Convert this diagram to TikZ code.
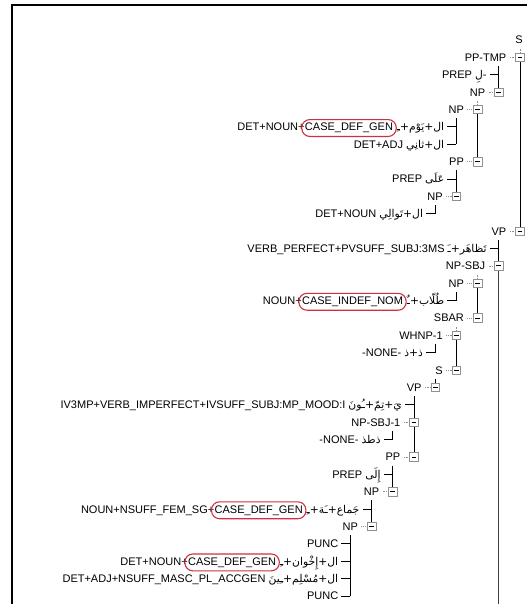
\documentclass[tikz,border=0pt]{standalone}
\usepackage{fontspec}
\setmainfont{Liberation Sans}
\newfontfamily\arfont[Script=Arabic,Scale=0.98]{DejaVu Sans}
\TeXXeTstate=1
\usetikzlibrary{fit}
\definecolor{ovalred}{RGB}{205,48,62}
\definecolor{boxgray}{RGB}{145,145,145}
\newcommand{\artxt}[1]{{\arfont\beginR#1\endR}}
\newcommand{\rowy}[1]{40+17.375*#1}
\newcommand{\colx}[1]{541.2-21.2*#1}
\newcommand{\place}[3]{\coordinate (#1) at ({\colx{#2}},{\rowy{#3}});}
\newcommand{\inode}[2]{%
  \draw[dotline] ([xshift=-4.3pt]#1) -- ([xshift=-11pt]#1);
  \node[lbl] (#1-t) at ([xshift=-13.5pt,yshift=-3.9pt]#1) {#2};
  \node[tbox] (#1-b) at (#1) {};}
\newcommand{\leaf}[2]{%
  \draw[tline] (#1) -- ([xshift=-9pt]#1);
  \node[lbl] (#1-t) at ([xshift=-12pt,yshift=-3.9pt]#1) {#2};}
\newcommand{\ovleaf}[4]{%
  \draw[tline] (#1) -- ([xshift=-9pt]#1);
  \node[lbl] (#1-t) at ([xshift=-12pt,yshift=-3.9pt]#1) {#4};
  \node[lbl] (#1-c) at ([xshift=-3.5pt]#1-t.base west) {#3};
  \node[lbl] (#1-p) at (#1-c.base west) {#2};
  \node[oval, fit=(#1-c)] (#1-o) {};}
\begin{document}
\begin{tikzpicture}[x=1pt,y=-1pt,
  font=\fontsize{11}{13}\selectfont,
  lbl/.style={anchor=base east, inner sep=0pt},
  tline/.style={black, line width=0.9pt},
  dotline/.style={boxgray, line width=0.6pt, dash pattern=on 0.8pt off 0.9pt},
  tbox/.style={draw=boxgray, fill=white, minimum size=8.5pt, inner sep=0pt, line width=0.6pt,
    path picture={\draw[black,line width=0.8pt] ([xshift=-2.4pt]path picture bounding box.center) -- ([xshift=2.4pt]path picture bounding box.center);}},
  oval/.style={draw=ovalred, line width=1.1pt, rounded corners=8pt, inner xsep=3pt, inner ysep=3.3pt},
  frame/.style={black, line width=1.8pt}]
\useasboundingbox (0,0) rectangle (527,604);
% frame
\coordinate (fbl) at (12,604);
\coordinate (ftl) at (12,5);
\coordinate (ftr) at (527,5);
\draw[frame] (fbl) -- (ftl) -- (ftr);
% positions
\place{n1}{1}{1}
\place{n2}{2}{2}
\place{n3}{2}{3}
\place{n4}{3}{4}
\place{n5}{4}{5}
\place{n6}{4}{6}
\place{n7}{3}{7}
\place{n8}{4}{8}
\place{n9}{4}{9}
\place{n10}{5}{10}
\place{n11}{1}{11}
\place{n12}{2}{12}
\place{n13}{2}{13}
\place{n14}{3}{14}
\place{n15}{4}{15}
\place{n16}{3}{16}
\place{n17}{4}{17}
\place{n18}{5}{18}
\place{n19}{4}{19}
\place{n20}{5}{20}
\place{n21}{6}{21}
\place{n22}{6}{22}
\place{n23}{7}{23}
\place{n24}{6}{24}
\place{n25}{7}{25}
\place{n26}{7}{26}
\place{n27}{8}{27}
\place{n28}{8}{28}
\place{n29}{9}{29}
\place{n30}{9}{30}
\place{n31}{9}{31}
\place{n32}{9}{32}
\coordinate (bot) at ({\colx{2}},604);
% root
\node[inner sep=0pt] (s0) at ({\colx{1}-1},{\rowy{0}}) {S};
% sibling lines
\draw[dotline] ([yshift=8.7pt]n1) -- ([yshift=4.3pt]n1);
\draw[tline] (n1) -- (n11);
\draw[tline] ([yshift=8.7pt]n2) -- (n3);
\draw[dotline] ([yshift=8.7pt]n4) -- ([yshift=4.3pt]n4);
\draw[tline] (n4) -- (n7);
\draw[tline] ([yshift=8.7pt]n5) -- (n6);
\draw[tline] ([yshift=8.7pt]n8) -- (n9);
\draw[tline] ([yshift=8.7pt]n10) -- (n10);
\draw[tline] ([yshift=8.7pt]n12) -- (n13);
\draw[black!75, line width=1.3pt] (n13) -- (bot);
\draw[dotline] ([yshift=8.7pt]n14) -- ([yshift=4.3pt]n14);
\draw[tline] (n14) -- (n16);
\draw[tline] ([yshift=8.7pt]n15) -- (n15);
\draw[dotline] ([yshift=8.7pt]n17) -- ([yshift=4.3pt]n17);
\draw[tline] (n17) -- (n19);
\draw[tline] ([yshift=8.7pt]n18) -- (n18);
\draw[tline] ([yshift=8.7pt]n20) -- (n20);
\draw[tline] ([yshift=8.7pt]n21) -- (n24);
\draw[tline] ([yshift=8.7pt]n23) -- (n23);
\draw[tline] ([yshift=8.7pt]n25) -- (n26);
\draw[tline] ([yshift=8.7pt]n27) -- (n28);
\draw[tline] ([yshift=8.7pt]n29) -- (n32);
% nodes
\inode{n1}{PP-TMP}
\leaf{n2}{PREP {\arfont لِ}-}
\inode{n3}{NP}
\inode{n4}{NP}
\ovleaf{n5}{DET+NOUN+}{CASE\_DEF\_GEN}{\artxt{ال+يَوْم+ـِ}}
\leaf{n6}{DET+ADJ \artxt{ال+ثانِي}}
\inode{n7}{PP}
\leaf{n8}{PREP \artxt{عَلَى}}
\inode{n9}{NP}
\leaf{n10}{DET+NOUN \artxt{ال+تَوالِي}}
\inode{n11}{VP}
\leaf{n12}{VERB\_PERFECT+PVSUFF\_SUBJ:3MS \artxt{تَظاهَر+ـَ}}
\inode{n13}{NP-SBJ}
\inode{n14}{NP}
\ovleaf{n15}{NOUN+}{CASE\_INDEF\_NOM}{\artxt{طُلّاب+ـٌ}}
\inode{n16}{SBAR}
\inode{n17}{WHNP-1}
\leaf{n18}{-NONE- \artxt{ذ+ذ}}
\inode{n19}{S}
\inode{n20}{VP}
\leaf{n21}{IV3MP+VERB\_IMPERFECT+IVSUFF\_SUBJ:MP\_MOOD:I \artxt{يَ+تِمّ+ـُونَ}}
\inode{n22}{NP-SBJ-1}
\leaf{n23}{-NONE- \artxt{ذطذ}}
\inode{n24}{PP}
\leaf{n25}{PREP \artxt{إِلَى}}
\inode{n26}{NP}
\ovleaf{n27}{NOUN+NSUFF\_FEM\_SG+}{CASE\_DEF\_GEN}{\artxt{جَماع+ـَة+ـِ}}
\inode{n28}{NP}
\leaf{n29}{PUNC}
\ovleaf{n30}{DET+NOUN+}{CASE\_DEF\_GEN}{\artxt{ال+إِخْوان+ـِ}}
\leaf{n31}{DET+ADJ+NSUFF\_MASC\_PL\_ACCGEN \artxt{ال+مُسْلِم+ـِينَ}}
\leaf{n32}{PUNC}
\end{tikzpicture}
\end{document}
